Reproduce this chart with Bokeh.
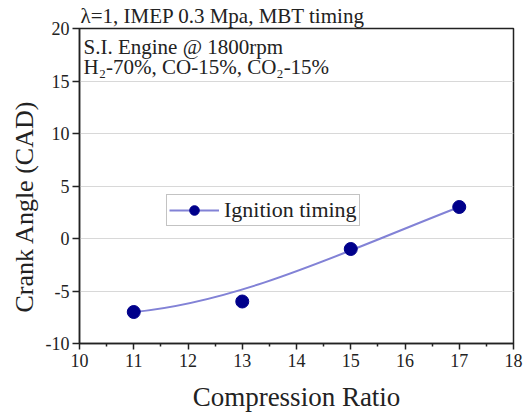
from bokeh.plotting import figure
from bokeh.models import Range1d, Label, Legend, LegendItem, FixedTicker, ColumnDataSource, Title
from bokeh.embed import file_html
from bokeh.resources import INLINE

# data
compression_ratio = [11, 13, 15, 17]
ignition_timing = [-7, -6, -1, 3]
x_ticks = [10, 11, 12, 13, 14, 15, 16, 17, 18]
y_ticks = [-10, -5, 0, 5, 10, 15, 20]
series_name = "Ignition timing"
title_text = "λ=1, IMEP 0.3 Mpa, MBT timing"
note1 = "S.I. Engine @ 1800rpm"
note2 = "H₂-70%, CO-15%, CO₂-15%"
x_label = "Compression Ratio"
y_label = "Crank Angle (CAD)"

FONT = "Liberation Serif"
TXT = "#222222"
LINE_COLOR = "#8282d6"
MARK_COLOR = "#00008b"

p = figure(width=527, height=417, output_backend="svg", toolbar_location=None,
           x_range=Range1d(10, 18), y_range=Range1d(-10, 20),
           min_border_left=79, min_border_right=14, min_border_top=27, min_border_bottom=74)
p.background_fill_color = "white"
p.border_fill_color = "white"
p.outline_line_color = TXT
p.outline_line_width = 1.5

# top title
p.title.text = title_text
p.title.align = "left"
p.title.offset = 1
p.title.text_font = FONT
p.title.text_font_size = "21px"
p.title.text_font_style = "normal"
p.title.text_color = TXT
p.title.standoff = 2

# axes
p.xaxis.ticker = FixedTicker(ticks=x_ticks, minor_ticks=[10.5 + i for i in range(8)])
p.yaxis.ticker = FixedTicker(ticks=y_ticks)
p.xaxis.major_label_overrides = {t: str(t) for t in x_ticks}
p.yaxis.major_label_overrides = {t: str(t) for t in y_ticks}
p.axis.axis_line_color = TXT
p.axis.axis_line_width = 1.5
p.axis.major_tick_line_color = TXT
p.axis.major_tick_line_width = 1.5
p.axis.major_tick_in = 0
p.axis.major_label_text_font = FONT
p.axis.major_label_text_font_size = "18px"
p.axis.major_label_text_color = TXT
p.xaxis.major_tick_out = 6
p.xaxis.minor_tick_out = 3
p.xaxis.minor_tick_in = 0
p.xaxis.minor_tick_line_color = TXT
p.xaxis.minor_tick_line_width = 1.5
p.xaxis.major_label_standoff = 4
p.xaxis.axis_label = x_label
p.xaxis.axis_label_text_font = FONT
p.xaxis.axis_label_text_font_size = "27px"
p.xaxis.axis_label_text_font_style = "normal"
p.xaxis.axis_label_text_color = TXT
p.xaxis.axis_label_standoff = 12
p.yaxis.major_tick_out = 7
p.yaxis.minor_tick_line_color = None
p.yaxis.major_label_standoff = 3

p.xgrid.grid_line_color = None
p.ygrid.grid_line_color = "#d8d8d8"
p.ygrid.grid_line_width = 1

# y label as a side title so it can be shifted along the axis like the reference
p.add_layout(Title(text=y_label, align="left", offset=31, standoff=7,
                   text_font=FONT, text_font_size="26px", text_font_style="normal",
                   text_color=TXT), "left")

# curve (B-spline with the data as control points) and markers
src = ColumnDataSource(dict(x=compression_ratio, y=ignition_timing))
curve = p.bezier(x0=[compression_ratio[0]], y0=[ignition_timing[0]],
                 x1=[compression_ratio[-1]], y1=[ignition_timing[-1]],
                 cx0=[compression_ratio[1]], cy0=[ignition_timing[1]],
                 cx1=[compression_ratio[2]], cy1=[ignition_timing[2]],
                 line_color=LINE_COLOR, line_width=2)
pts = p.scatter("x", "y", source=src, size=13, fill_color=MARK_COLOR, line_color=MARK_COLOR)

legend = Legend(items=[LegendItem(label=series_name, renderers=[curve, pts])],
                location=(87, 117), orientation="vertical",
                label_text_font=FONT, label_text_font_size="22px", label_text_color=TXT,
                glyph_width=50, glyph_height=24, label_standoff=5,
                padding=2, margin=0, spacing=0,
                border_line_color="#888888", border_line_width=1,
                background_fill_color="white", background_fill_alpha=1)
p.add_layout(legend, "center")

# notes inside the frame
p.add_layout(Label(x=10, y=20, x_offset=4, y_offset=-18, text=note1,
                   text_align="left", text_baseline="middle",
                   text_font=FONT, text_font_size="21px", text_color=TXT))
p.add_layout(Label(x=10, y=20, x_offset=4, y_offset=-38, text=note2,
                   text_align="left", text_baseline="middle",
                   text_font=FONT, text_font_size="21px", text_color=TXT))

open("out.html", "w").write(file_html(p, INLINE))
